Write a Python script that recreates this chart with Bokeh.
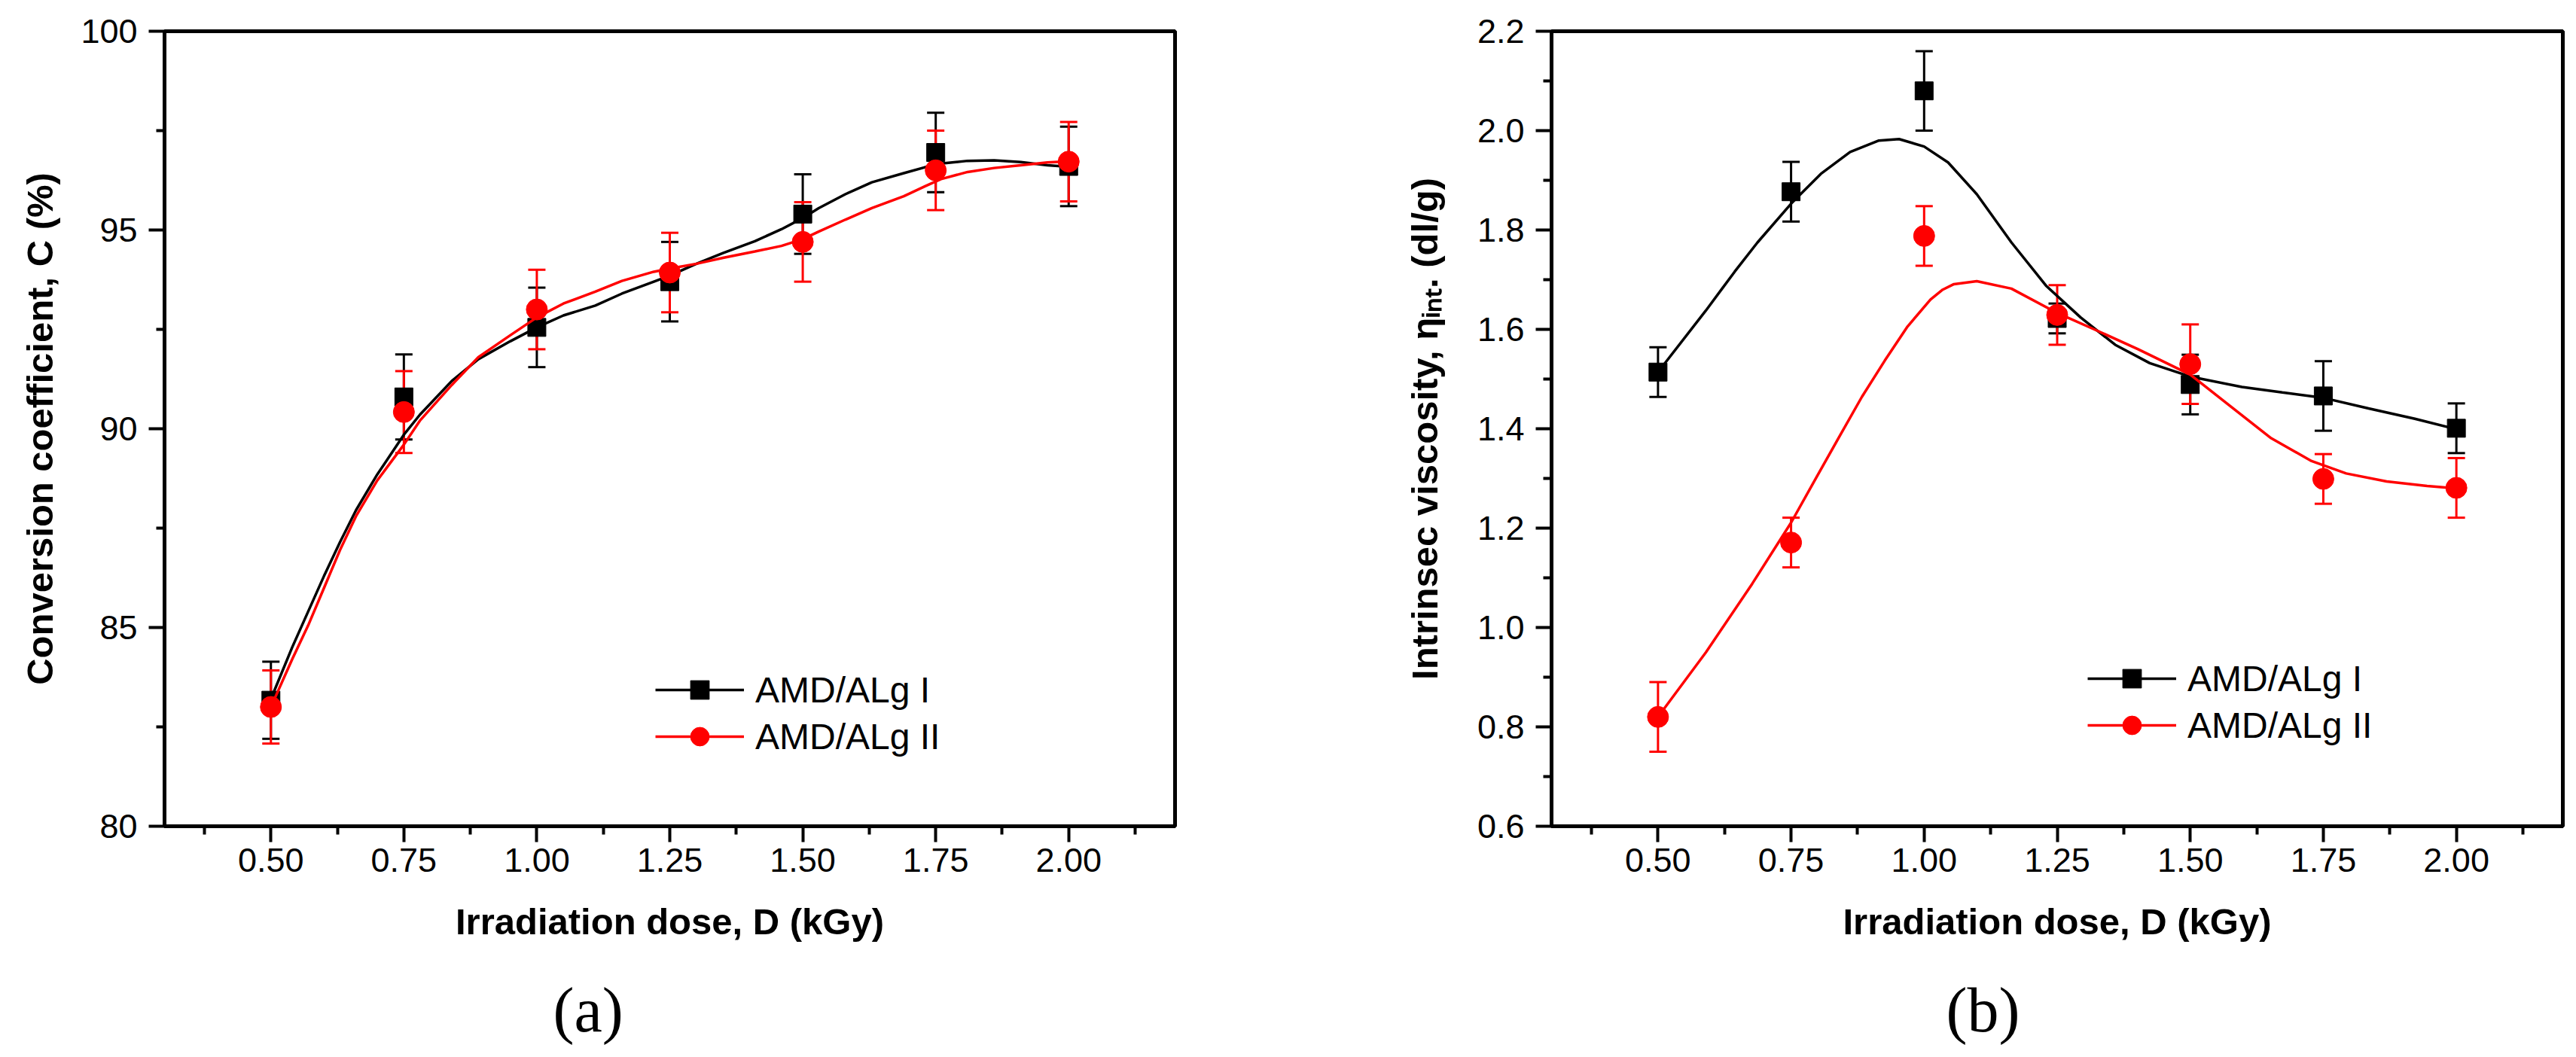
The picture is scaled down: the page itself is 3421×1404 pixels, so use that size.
from bokeh.plotting import figure
from bokeh.layouts import row
from bokeh.models import (FixedTicker, PrintfTickFormatter, Whisker, TeeHead,
                          ColumnDataSource, Title)
from bokeh.embed import file_html
from bokeh.resources import INLINE

# measured points
dose = [0.5, 0.75, 1.0, 1.25, 1.5, 1.75, 2.0]

conv_I = [83.17, 90.8, 92.55, 93.7, 95.4, 96.95, 96.6]
conv_I_err = [0.97, 1.07, 1.0, 1.0, 1.0, 1.0, 1.0]
conv_II = [83.0, 90.42, 93.0, 93.93, 94.7, 96.5, 96.72]
conv_II_err = [0.92, 1.03, 1.0, 1.0, 1.0, 1.0, 1.0]

visc_I = [1.514, 1.877, 2.08, 1.622, 1.489, 1.466, 1.401]
visc_I_err = [0.05, 0.06, 0.08, 0.03, 0.06, 0.07, 0.05]
visc_II = [0.82, 1.171, 1.788, 1.629, 1.53, 1.299, 1.281]
visc_II_err = [0.07, 0.05, 0.06, 0.06, 0.08, 0.05, 0.06]

# fitted curves
conv_fit_x = [0.50, 0.54, 0.57, 0.60, 0.63, 0.66, 0.70, 0.75, 0.78, 0.84,
              0.89, 0.95, 1.00, 1.05, 1.11, 1.16, 1.22, 1.25, 1.30, 1.35,
              1.41, 1.46, 1.50, 1.53, 1.58, 1.63, 1.69, 1.73, 1.76, 1.81,
              1.86, 1.91, 1.96, 2.00]
conv_fit_I = [83.2, 84.5, 85.4, 86.3, 87.15, 87.95, 88.85, 89.85, 90.35, 91.2,
              91.75, 92.2, 92.55, 92.85, 93.1, 93.4, 93.7, 93.85, 94.15, 94.42,
              94.72, 95.02, 95.3, 95.55, 95.9, 96.2, 96.43, 96.58, 96.67, 96.74,
              96.75, 96.71, 96.63, 96.59]
conv_fit_II = [83.0, 84.2, 85.05, 86.0, 86.95, 87.8, 88.7, 89.6, 90.2, 91.1,
               91.8, 92.35, 92.8, 93.15, 93.45, 93.72, 93.95, 94.03, 94.15, 94.3,
               94.46, 94.6, 94.77, 94.96, 95.26, 95.55, 95.85, 96.1, 96.28, 96.46,
               96.56, 96.63, 96.7, 96.73]

visc_fit_x_I = [0.50, 0.59, 0.644, 0.687, 0.75, 0.806, 0.861, 0.915, 0.953, 1.0,
                1.045, 1.099, 1.164, 1.229, 1.294, 1.359, 1.424, 1.5, 1.597, 1.673,
                1.751, 1.835, 1.922, 2.0]
visc_fit_I = [1.514, 1.638, 1.716, 1.775, 1.853, 1.913, 1.957, 1.980, 1.983, 1.968,
              1.936, 1.872, 1.775, 1.688, 1.624, 1.569, 1.532, 1.505, 1.484, 1.473,
              1.462, 1.441, 1.420, 1.399]
visc_fit_x_II = [0.50, 0.59, 0.677, 0.75, 0.796, 0.839, 0.883, 0.926, 0.969, 1.012,
                 1.035, 1.056, 1.099, 1.164, 1.25, 1.326, 1.402, 1.5, 1.576, 1.652,
                 1.728, 1.793, 1.869, 1.945, 2.0]
visc_fit_II = [0.820, 0.950, 1.088, 1.211, 1.299, 1.381, 1.464, 1.537, 1.606, 1.660,
               1.680, 1.691, 1.697, 1.682, 1.633, 1.597, 1.560, 1.509, 1.445, 1.381,
               1.335, 1.310, 1.294, 1.285, 1.280]

x_major = [0.5, 0.75, 1.0, 1.25, 1.5, 1.75, 2.0]
x_minor = [0.375, 0.625, 0.875, 1.125, 1.375, 1.625, 1.875, 2.125]
conv_major = [80, 85, 90, 95, 100]
conv_minor = [82.5, 87.5, 92.5, 97.5]
visc_major = [0.6, 0.8, 1.0, 1.2, 1.4, 1.6, 1.8, 2.0, 2.2]
visc_minor = [0.7, 0.9, 1.1, 1.3, 1.5, 1.7, 1.9, 2.1]

labels = ["AMD/ALg I", "AMD/ALg II"]
x_title = "Irradiation dose, D (kGy)"
FONT = "Liberation Sans"
FIG_H = 1404
TOP = 41
FRAME_H = 1056


def make_fig(width, left, right, y_range, y_major, y_minor, y_fmt, y_label, y_standoff):
    p = figure(width=width, height=FIG_H, x_range=(0.3, 2.2), y_range=y_range,
               output_backend="svg", toolbar_location=None,
               min_border_left=left, min_border_right=right,
               min_border_top=TOP, min_border_bottom=FIG_H - TOP - FRAME_H)
    p.grid.visible = False
    p.outline_line_color = "black"
    p.outline_line_width = 5
    p.outline_line_alpha = 1
    p.xaxis.ticker = FixedTicker(ticks=x_major, minor_ticks=x_minor)
    p.xaxis.formatter = PrintfTickFormatter(format="%.2f")
    p.yaxis.ticker = FixedTicker(ticks=y_major, minor_ticks=y_minor)
    p.yaxis.formatter = PrintfTickFormatter(format=y_fmt)
    for ax in (p.xaxis, p.yaxis):
        ax.axis_line_width = 5
        ax.major_tick_line_width = 4
        ax.minor_tick_line_width = 4
        ax.major_tick_in = 0
        ax.minor_tick_in = 0
        ax.major_tick_out = 21
        ax.minor_tick_out = 11
        ax.major_label_text_font = FONT
        ax.major_label_text_font_size = "45px"
        ax.major_label_text_color = "black"
        ax.axis_label_text_font = FONT
        ax.axis_label_text_font_size = "49px"
        ax.axis_label_text_font_style = "bold"
        ax.axis_label_text_color = "black"
    p.xaxis.major_label_standoff = 8
    p.yaxis.major_label_standoff = 15
    p.yaxis.axis_label = y_label
    p.yaxis.axis_label_standoff = y_standoff
    # x title and panel caption stacked below the axis
    p.add_layout(Title(text=x_title, align="center", vertical_align="top", standoff=72,
                       text_font=FONT, text_font_size="49px", text_font_style="bold",
                       text_color="black"), "below")
    return p


def add_series(p, x, y, err, fx, fy, color, marker, size, label):
    p.line(fx, fy, line_color=color, line_width=3.5, legend_label=label)
    p.scatter(x, y, marker=marker, size=size, fill_color=color, line_color=color,
              legend_label=label)
    src = ColumnDataSource(dict(x=x, upper=[a + b for a, b in zip(y, err)],
                                lower=[a - b for a, b in zip(y, err)]))
    p.add_layout(Whisker(base="x", upper="upper", lower="lower", source=src,
                         line_color=color, line_width=3,
                         upper_head=TeeHead(size=23, line_color=color, line_width=3),
                         lower_head=TeeHead(size=23, line_color=color, line_width=3)))


def style_legend(p, loc):
    lg = p.legend[0]
    lg.location = loc
    lg.glyph_width = 118
    lg.glyph_height = 62
    lg.label_height = 62
    lg.label_standoff = 15
    lg.spacing = 0
    lg.padding = 0
    lg.margin = 0
    lg.border_line_alpha = 0
    lg.background_fill_alpha = 0
    lg.label_text_font = FONT
    lg.label_text_font_size = "48px"
    lg.label_text_color = "black"


def add_caption(p, text, offset):
    p.add_layout(Title(text=text, align="left", vertical_align="top", offset=offset,
                       standoff=12, text_font="Liberation Serif", text_font_size="84px",
                       text_font_style="normal", text_color="black"), "below")


# (a) conversion coefficient
p1 = make_fig(1750, 218, 190, (80, 100), conv_major, conv_minor, "%d",
              "Conversion coefficient, C (%)", 24)
add_series(p1, dose, conv_I, conv_I_err, conv_fit_x, conv_fit_I, "black", "square", 24, labels[0])
add_series(p1, dose, conv_II, conv_II_err, conv_fit_x, conv_fit_II, "#ff0000", "circle", 28, labels[1])
style_legend(p1, (652, 88))
add_caption(p1, "(a)", 516)

# (b) intrinsic viscosity
p2 = make_fig(1671, 310, 18, (0.6, 2.2), visc_major, visc_minor, "%.1f",
              "Intrinsec viscosity, \u03b7\u1d62\u2099\u209c. (dl/g)", 40)
add_series(p2, dose, visc_I, visc_I_err, visc_fit_x_I, visc_fit_I, "black", "square", 24, labels[0])
add_series(p2, dose, visc_II, visc_II_err, visc_fit_x_II, visc_fit_II, "#ff0000", "circle", 28, labels[1])
style_legend(p2, (712, 103))
add_caption(p2, "(b)", 524)

layout = row(p1, p2)
open("out.html", "w").write(file_html(layout, INLINE))
